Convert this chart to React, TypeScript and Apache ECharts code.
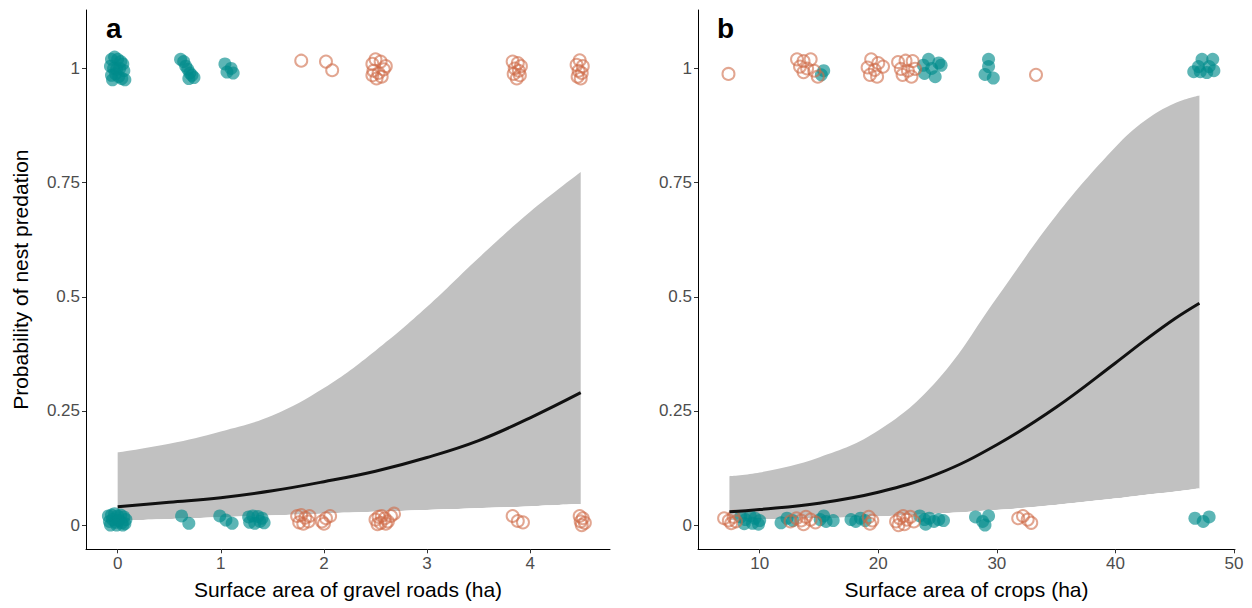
import React, { useEffect, useRef } from "react";
import * as echarts from "echarts";

const FONT = '"Liberation Sans", Arial, sans-serif';

// ---- Panel a: gravel roads ----
const X_A = [0, 0.5, 1, 1.5, 2, 2.5, 3, 3.5, 4, 4.49];
const FIT_A = [0.040, 0.050, 0.060, 0.075, 0.095, 0.118, 0.148, 0.185, 0.235, 0.290];
const UPPER_A = [0.159, 0.178, 0.205, 0.240, 0.300, 0.382, 0.478, 0.585, 0.686, 0.773];
const LOWER_A = [0.010, 0.013, 0.017, 0.021, 0.025, 0.029, 0.033, 0.037, 0.041, 0.046];

const FILLED_A: number[][] = [
  [-0.06, 1.02], [-0.03, 1.025], [0.0, 1.02], [0.03, 1.015], [0.05, 1.01], [-0.07, 1.005], [-0.04, 1.0],
  [-0.01, 0.998], [0.02, 1.0], [0.06, 0.995], [-0.06, 0.985], [-0.02, 0.988], [0.01, 0.982], [0.04, 0.978],
  [0.07, 0.975], [-0.05, 0.975],
  [0.61, 1.02], [0.64, 1.015], [0.66, 1.005], [0.68, 0.998], [0.70, 0.99], [0.72, 0.985], [0.74, 0.98], [0.69, 0.978],
  [1.04, 1.01], [1.10, 1.0], [1.06, 0.992], [1.12, 0.99],
  [-0.09, 0.02], [-0.06, 0.022], [-0.03, 0.025], [0.0, 0.02], [0.03, 0.022], [0.06, 0.018], [0.08, 0.012],
  [-0.08, 0.008], [-0.05, 0.012], [-0.02, 0.006], [0.01, 0.01], [0.04, 0.005], [0.07, 0.003], [-0.07, 0.0],
  [-0.01, 0.0], [0.05, 0.0],
  [0.62, 0.02], [0.69, 0.004],
  [0.99, 0.02], [1.05, 0.011], [1.11, 0.004],
  [1.27, 0.018], [1.31, 0.02], [1.36, 0.019], [1.40, 0.015], [1.28, 0.006], [1.33, 0.004], [1.38, 0.008], [1.42, 0.005],
];

const OPEN_A: number[][] = [
  [1.78, 1.017], [2.02, 1.015], [2.08, 0.996],
  [2.47, 1.01], [2.50, 1.02], [2.55, 1.015], [2.60, 1.005], [2.48, 0.995], [2.53, 0.99], [2.58, 0.998],
  [2.47, 0.985], [2.51, 0.978], [2.56, 0.982],
  [3.83, 1.015], [3.88, 1.012], [3.91, 1.005], [3.85, 1.0], [3.89, 0.995], [3.84, 0.988], [3.90, 0.985], [3.87, 0.978],
  [4.48, 1.018], [4.45, 1.008], [4.51, 1.005], [4.47, 0.995], [4.50, 0.99], [4.46, 0.982], [4.49, 0.978],
  [1.74, 0.02], [1.78, 0.022], [1.82, 0.016], [1.86, 0.02], [1.76, 0.006], [1.80, 0.003], [1.85, 0.008],
  [1.98, 0.008], [2.02, 0.015], [2.06, 0.02], [2.0, 0.003],
  [2.50, 0.012], [2.53, 0.018], [2.56, 0.02], [2.59, 0.015], [2.62, 0.008], [2.55, 0.005], [2.60, 0.003],
  [2.52, 0.002], [2.65, 0.02], [2.68, 0.025],
  [3.83, 0.02], [3.88, 0.009], [3.93, 0.006],
  [4.48, 0.02], [4.51, 0.015], [4.49, 0.008], [4.53, 0.005], [4.50, 0.0],
];

// ---- Panel b: crops ----
const X_B = [7.45, 10, 15, 20, 25, 30, 35, 40, 42.5, 45, 47.08];
const FIT_B = [0.029, 0.034, 0.048, 0.072, 0.112, 0.176, 0.258, 0.355, 0.405, 0.452, 0.486];
const UPPER_B = [0.107, 0.115, 0.148, 0.207, 0.318, 0.498, 0.678, 0.828, 0.886, 0.924, 0.941];
const LOWER_B = [0.011, 0.013, 0.015, 0.019, 0.025, 0.033, 0.044, 0.058, 0.066, 0.073, 0.080];

const FILLED_B: number[][] = [
  [15.2, 0.986], [15.4, 0.995],
  [24.24, 1.02], [25.1, 1.012], [23.8, 1.007], [24.5, 1.0], [23.9, 0.989], [24.8, 0.982], [25.3, 1.007],
  [29.3, 1.02], [29.3, 1.004], [29.0, 0.987], [29.7, 0.979],
  [47.3, 1.02], [48.2, 1.02], [46.6, 0.993], [47.15, 0.993], [47.7, 0.991], [48.3, 0.995], [47.0, 1.004], [47.9, 1.004],
  [8.4, 0.018], [8.8, 0.012], [9.2, 0.02], [9.6, 0.015], [10.0, 0.01], [8.7, 0.003], [9.4, 0.004], [9.9, 0.002],
  [11.8, 0.005], [12.3, 0.015], [12.8, 0.01],
  [15.1, 0.012], [15.6, 0.008], [16.2, 0.01], [15.4, 0.02],
  [17.7, 0.012], [18.1, 0.008], [18.5, 0.015], [18.9, 0.01],
  [23.5, 0.02], [23.9, 0.012], [24.3, 0.015], [24.7, 0.008], [25.1, 0.012], [25.5, 0.01], [24.0, 0.002],
  [28.2, 0.018], [28.8, 0.008], [29.3, 0.02], [29.0, 0.0],
  [46.7, 0.015], [47.4, 0.008], [47.9, 0.018],
];

const OPEN_B: number[][] = [
  [7.37, 0.988],
  [13.15, 1.02], [13.7, 1.016], [14.3, 1.02], [13.4, 1.004], [14.0, 1.0], [14.6, 0.995], [13.7, 0.992], [14.9, 0.982],
  [19.4, 1.02], [20.0, 1.012], [19.1, 1.002], [19.7, 0.997], [20.4, 1.004], [19.3, 0.986], [19.9, 0.982],
  [21.67, 1.014], [22.3, 1.017], [22.9, 1.016], [21.9, 0.999], [22.5, 0.995], [23.1, 0.999], [22.05, 0.986], [22.8, 0.982],
  [33.3, 0.986],
  [7.0, 0.015], [7.4, 0.01], [7.8, 0.018], [7.6, 0.004], [8.0, 0.008],
  [12.6, 0.008], [13.1, 0.015], [13.5, 0.01], [13.9, 0.018], [14.3, 0.012], [14.7, 0.006], [13.7, 0.002],
  [19.2, 0.018], [19.5, 0.01], [19.3, 0.003],
  [21.5, 0.008], [21.8, 0.015], [22.1, 0.02], [22.4, 0.012], [22.7, 0.018], [23.0, 0.008], [22.2, 0.002], [21.7, 0.0],
  [31.8, 0.015], [32.2, 0.02], [32.6, 0.012], [32.9, 0.005],
];

const Y_TICKS = [0, 0.25, 0.5, 0.75, 1];
const X_TICKS_A = [0, 1, 2, 3, 4];
const X_TICKS_B = [10, 20, 30, 40, 50];
const X_TITLE_A = "Surface area of gravel roads (ha)";
const X_TITLE_B = "Surface area of crops (ha)";
const Y_TITLE = "Probability of nest predation";
const PANEL_LABELS = ["a", "b"];

const FILLED_COLOR = "rgba(0,139,139,0.8)";
const OPEN_COLOR = "rgba(207,107,72,0.75)";
const RIBBON_COLOR = "#c1c1c1";
const TICK_FONT = 17;

function xAxisCfg(gridIndex: number, min: number, max: number, ticks: number[], name: string) {
  return {
    type: "value",
    gridIndex,
    min,
    max,
    z: 10,
    name,
    nameLocation: "middle",
    nameGap: 30,
    nameTextStyle: { fontSize: 21, color: "#000", fontFamily: FONT },
    axisLine: { show: true, onZero: false, lineStyle: { color: "#000", width: 1 } },
    axisTick: { show: true, length: 4, customValues: ticks, lineStyle: { color: "#333", width: 1 } },
    axisLabel: { fontSize: TICK_FONT, color: "#4d4d4d", fontFamily: FONT, margin: 6, customValues: ticks },
    splitLine: { show: false },
  };
}

function yAxisCfg(gridIndex: number, name: string) {
  return {
    type: "value",
    gridIndex,
    min: -0.053,
    max: 1.128,
    z: 10,
    name,
    nameLocation: "middle",
    nameGap: 55,
    nameRotate: 90,
    nameTextStyle: { fontSize: 21, color: "#000", fontFamily: FONT },
    axisLine: { show: true, onZero: false, lineStyle: { color: "#000", width: 1 } },
    axisTick: { show: true, length: 4, customValues: Y_TICKS, lineStyle: { color: "#333", width: 1 } },
    axisLabel: { fontSize: TICK_FONT, color: "#4d4d4d", fontFamily: FONT, margin: 6, customValues: Y_TICKS },
    splitLine: { show: false },
  };
}

function zip(xs: number[], ys: number[]) {
  return xs.map((x, i) => [x, ys[i]]);
}

function whiteFloor(idx: number, xs: number[], lower: number[], dx: number) {
  // white fill below the lower bound, so only the interval band stays grey
  return {
    type: "line",
    xAxisIndex: idx,
    yAxisIndex: idx,
    data: zip(xs, lower),
    smooth: 0.4,
    symbol: "none",
    lineStyle: { width: 0, opacity: 0 },
    areaStyle: {
      color: "#ffffff",
      opacity: 1,
      origin: "start",
      shadowColor: "#ffffff",
      shadowBlur: 0,
      shadowOffsetX: dx,
    },
    silent: true,
    z: 1,
  };
}

function panelSeries(idx: number, xs: number[], fit: number[], lower: number[], upper: number[], filled: number[][], open: number[][]) {
  return [
    {
      // upper bound of the interval: grey down to the panel floor
      type: "line",
      xAxisIndex: idx,
      yAxisIndex: idx,
      data: zip(xs, upper),
      smooth: 0.4,
      symbol: "none",
      lineStyle: { width: 0, opacity: 0 },
      areaStyle: { color: RIBBON_COLOR, opacity: 1, origin: "start" },
      silent: true,
      z: 1,
    },
    whiteFloor(idx, xs, lower, 1.5),
    whiteFloor(idx, xs, lower, -1.5),
    {
      type: "scatter",
      xAxisIndex: idx,
      yAxisIndex: idx,
      data: filled,
      symbol: "circle",
      symbolSize: 13,
      itemStyle: { color: FILLED_COLOR },
      z: 2,
    },
    {
      type: "scatter",
      xAxisIndex: idx,
      yAxisIndex: idx,
      data: open,
      symbol: "circle",
      symbolSize: 12,
      itemStyle: { color: "rgba(0,0,0,0)", borderColor: OPEN_COLOR, borderWidth: 2 },
      z: 2,
    },
    {
      type: "line",
      xAxisIndex: idx,
      yAxisIndex: idx,
      data: zip(xs, fit),
      smooth: 0.4,
      symbol: "none",
      lineStyle: { color: "#111", width: 3 },
      z: 3,
    },
  ];
}

export default function App() {
  const ref = useRef<HTMLDivElement>(null);
  useEffect(() => {
    document.body.style.margin = "0";
    const chart = echarts.init(ref.current!, null, { renderer: "svg" });
    chart.setOption({
      animation: false,
      backgroundColor: "#fff",
      grid: [
        { left: 86, top: 10, width: 524, height: 539.3 },
        { left: 698, top: 10, width: 537, height: 539.3 },
      ],
      xAxis: [
        xAxisCfg(0, -0.307, 4.774, X_TICKS_A, X_TITLE_A),
        xAxisCfg(1, 4.8, 50.08, X_TICKS_B, X_TITLE_B),
      ],
      yAxis: [yAxisCfg(0, Y_TITLE), yAxisCfg(1, "")],
      series: [
        ...panelSeries(0, X_A, FIT_A, LOWER_A, UPPER_A, FILLED_A, OPEN_A),
        ...panelSeries(1, X_B, FIT_B, LOWER_B, UPPER_B, FILLED_B, OPEN_B),
      ],
      graphic: [
        {
          type: "text",
          left: 106,
          top: 14,
          z: 20,
          style: { text: PANEL_LABELS[0], font: `bold 28px ${FONT}`, fill: "#000" },
        },
        {
          type: "text",
          left: 717,
          top: 14,
          z: 20,
          style: { text: PANEL_LABELS[1], font: `bold 28px ${FONT}`, fill: "#000" },
        },
      ],
    });
    return () => chart.dispose();
  }, []);
  return (
    <div
      ref={ref}
      style={{ position: "absolute", left: 0, top: 0, width: 1252, height: 608 }}
    />
  );
}
